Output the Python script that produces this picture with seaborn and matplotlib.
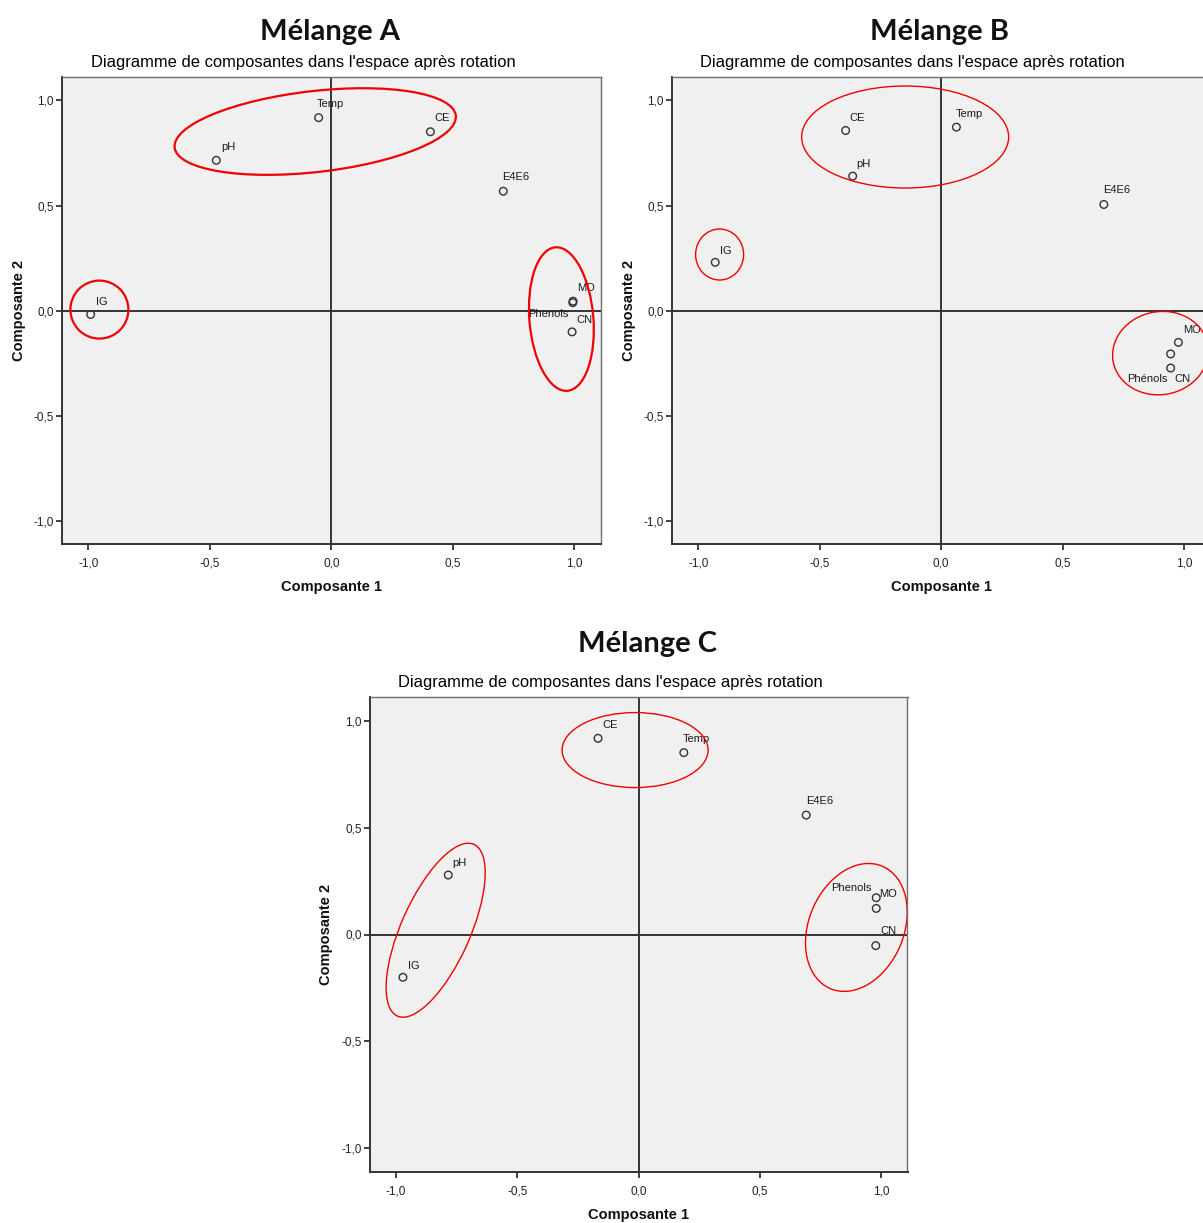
import matplotlib
matplotlib.use("Agg")
import matplotlib.pyplot as plt
from matplotlib import font_manager
from matplotlib.patches import Ellipse
from matplotlib.transforms import ScaledTranslation
from matplotlib.ticker import FixedLocator, FuncFormatter
import pandas as pd
import seaborn as sns

# ---------------------------------------------------------------------------
# Rotated component loadings (Composante 1, Composante 2) for each mixture
# ---------------------------------------------------------------------------
variables_a = ["Temp", "CE", "pH", "E4E6", "IG", "MO", "Phenols", "CN"]
comp1_a = [-0.052, 0.408, -0.473, 0.708, -0.990, 0.995, 0.994, 0.991]
comp2_a = [0.918, 0.851, 0.715, 0.568, -0.018, 0.045, 0.038, -0.101]

variables_b = ["CE", "pH", "Temp", "E4E6", "IG", "MO", "Phénols", "CN"]
comp1_b = [-0.393, -0.364, 0.063, 0.670, -0.930, 0.977, 0.945, 0.945]
comp2_b = [0.857, 0.640, 0.873, 0.505, 0.230, -0.151, -0.206, -0.273]

variables_c = ["CE", "Temp", "E4E6", "pH", "IG", "Phenols", "MO", "CN"]
comp1_c = [-0.167, 0.187, 0.692, -0.785, -0.972, 0.981, 0.981, 0.979]
comp2_c = [0.917, 0.850, 0.558, 0.278, -0.200, 0.172, 0.122, -0.052]

tick_values = [-1.0, -0.5, 0.0, 0.5, 1.0]
panel_titles = ["Mélange A", "Mélange B", "Mélange C"]
chart_title = "Diagramme de composantes dans l'espace après rotation"
x_label = "Composante 1"
y_label = "Composante 2"

# ---------------------------------------------------------------------------
# Styling / layout
# ---------------------------------------------------------------------------
DPI = 100
FIG_W, FIG_H = 1203, 1223
PLOT_BG = "#f0f0f0"
DARK = "#333333"
FRAME = "#6e6e6e"
RED = "#f00000"
LIMITS = (-1.11, 1.11)

sns.set_style("white")
fonts = {f.name for f in font_manager.fontManager.ttflist}
if "Liberation Sans Narrow" in fonts:
    SMALL = ["Liberation Sans Narrow", "DejaVu Sans"]
    tick_size, point_size, axlab_size = 10, 9, 12.5
else:
    SMALL = ["Liberation Sans", "DejaVu Sans"]
    tick_size, point_size, axlab_size = 8.5, 8, 10.5
MAIN = ["Liberation Sans", "DejaVu Sans"]
HEAD = ["Lato", "Liberation Sans", "DejaVu Sans"]
plt.rcParams["font.family"] = MAIN

# label offsets in pixels: (dx, dy, horizontal alignment); dy is upwards
offsets_a = {"Temp": (-1.5, 13.5, "left"), "CE": (4, 13.5, "left"),
             "pH": (4.5, 13, "left"), "E4E6": (-1.5, 14, "left"),
             "IG": (5, 12, "left"), "MO": (4, 13, "left"),
             "Phenols": (-4, -11.5, "right"), "CN": (4, 11.5, "left")}
offsets_b = {"CE": (3.5, 12, "left"), "pH": (3.5, 12.5, "left"),
             "Temp": (-1, 13.5, "left"), "E4E6": (-1, 14, "left"),
             "IG": (5, 11.5, "left"), "MO": (4.5, 12, "left"),
             "Phénols": (-3, -25.5, "right"), "CN": (3.5, -10.5, "left")}
offsets_c = {"CE": (4, 13.3, "left"), "Temp": (-1.4, 13.4, "left"),
             "E4E6": (0, 14.3, "left"), "pH": (4, 11.7, "left"),
             "IG": (5, 11.6, "left"), "Phenols": (-4.3, 10, "right"),
             "MO": (3.3, 14, "left"), "CN": (4.7, 15, "left")}

# highlighted groups: centre in data units, width/height in pixels, angle
groups_a = [((-0.066, 0.852), 283, 81, 6.5),
            ((-0.954, 0.005), 58, 58, 0),
            ((0.947, -0.040), 144, 64, 94.8)]
groups_b = [((-0.148, 0.826), 207, 102, 0),
            ((-0.912, 0.267), 48, 51, 0),
            ((0.903, -0.202), 96, 83, 10)]
groups_c = [((-0.014, 0.862), 146, 75, 0),
            ((-0.837, 0.020), 188, 69, 66),
            ((0.899, 0.033), 133, 95, 67)]


def fmt(v, _pos):
    return f"{v:.1f}".replace(".", ",")


def px_axes(fig, left, top, right, bottom):
    return fig.add_axes([left / FIG_W, 1 - bottom / FIG_H,
                         (right - left) / FIG_W, (bottom - top) / FIG_H])


def draw_panel(fig, ax, names, c1, c2, offsets, groups, group_lw,
               xlab_y, ylab_x):
    df = pd.DataFrame({x_label: c1, y_label: c2, "variable": names})
    ax.set_facecolor(PLOT_BG)
    ax.set_xlim(*LIMITS)
    ax.set_ylim(*LIMITS)
    ax.axhline(0, color=DARK, lw=1.4, zorder=1)
    ax.axvline(0, color=DARK, lw=1.4, zorder=1)

    sns.scatterplot(data=df, x=x_label, y=y_label, ax=ax, marker="o",
                    s=30, legend=False, zorder=3)
    pts = ax.collections[-1]
    pts.set_facecolor("none")
    pts.set_edgecolor(DARK)
    pts.set_linewidth(1.0)

    for name, x, y in zip(names, c1, c2):
        dx, dy, ha = offsets[name]
        ax.annotate(name, (x, y), xytext=(dx, dy), textcoords="offset pixels",
                    ha=ha, va="center", fontsize=point_size, family=SMALL,
                    color="#1a1a1a", zorder=4)

    for (cx, cy), w, h, ang in groups:
        trans = fig.dpi_scale_trans + ScaledTranslation(cx, cy, ax.transData)
        ax.add_patch(Ellipse((0, 0), w / DPI, h / DPI, angle=ang,
                             transform=trans, fill=False, ec=RED,
                             lw=group_lw, zorder=5))

    ax.xaxis.set_major_locator(FixedLocator(tick_values))
    ax.yaxis.set_major_locator(FixedLocator(tick_values))
    ax.xaxis.set_major_formatter(FuncFormatter(fmt))
    ax.yaxis.set_major_formatter(FuncFormatter(fmt))
    ax.tick_params(axis="both", direction="out", length=4, width=1.3,
                   color=DARK, labelsize=tick_size, labelcolor="#222222",
                   bottom=True, left=True)
    ax.tick_params(axis="x", pad=6)
    ax.tick_params(axis="y", pad=1.5)
    for lab in ax.get_xticklabels() + ax.get_yticklabels():
        lab.set_family(SMALL)
    for side in ("left", "bottom"):
        ax.spines[side].set_color(DARK)
        ax.spines[side].set_linewidth(1.4)
    for side in ("top", "right"):
        ax.spines[side].set_color(FRAME)
        ax.spines[side].set_linewidth(1.0)
    ax.grid(False)

    ax.set_xlabel(x_label, fontsize=axlab_size, fontweight="bold",
                  family=SMALL, color="#111111")
    ax.set_ylabel(y_label, fontsize=axlab_size, fontweight="bold",
                  family=SMALL, color="#111111")
    ax.xaxis.label.set_va("center")
    ax.yaxis.label.set_va("center")
    ax.xaxis.set_label_coords(0.5, xlab_y)
    ax.yaxis.set_label_coords(ylab_x, 0.5)


fig = plt.figure(figsize=(FIG_W / DPI, FIG_H / DPI), dpi=DPI)
fig.patch.set_facecolor("white")

ax_a = px_axes(fig, 61.5, 77.3, 601, 544)
ax_b = px_axes(fig, 671.5, 77.3, 1210.7, 544)
ax_c = px_axes(fig, 369.5, 697, 907.5, 1172)

draw_panel(fig, ax_a, variables_a, comp1_a, comp2_a, offsets_a, groups_a,
           1.6, -0.092, -0.079)
draw_panel(fig, ax_b, variables_b, comp1_b, comp2_b, offsets_b, groups_b,
           1.0, -0.092, -0.079)
draw_panel(fig, ax_c, variables_c, comp1_c, comp2_c, offsets_c, groups_c,
           1.0, -0.0905, -0.081)

# panel headings and chart titles
for title, (x, y) in zip(panel_titles, [(330, 32), (940, 32), (648, 644)]):
    fig.text(x / FIG_W, 1 - y / FIG_H, title, ha="center", va="center",
             fontsize=21, fontweight="bold", family=HEAD, color="#111111")
for x, y in [(303, 62), (912.5, 62), (610, 682)]:
    fig.text(x / FIG_W, 1 - y / FIG_H, chart_title, ha="center", va="center",
             fontsize=11.9, family=MAIN, color="#000000")

fig.savefig("out.png", dpi=DPI, facecolor="white")
